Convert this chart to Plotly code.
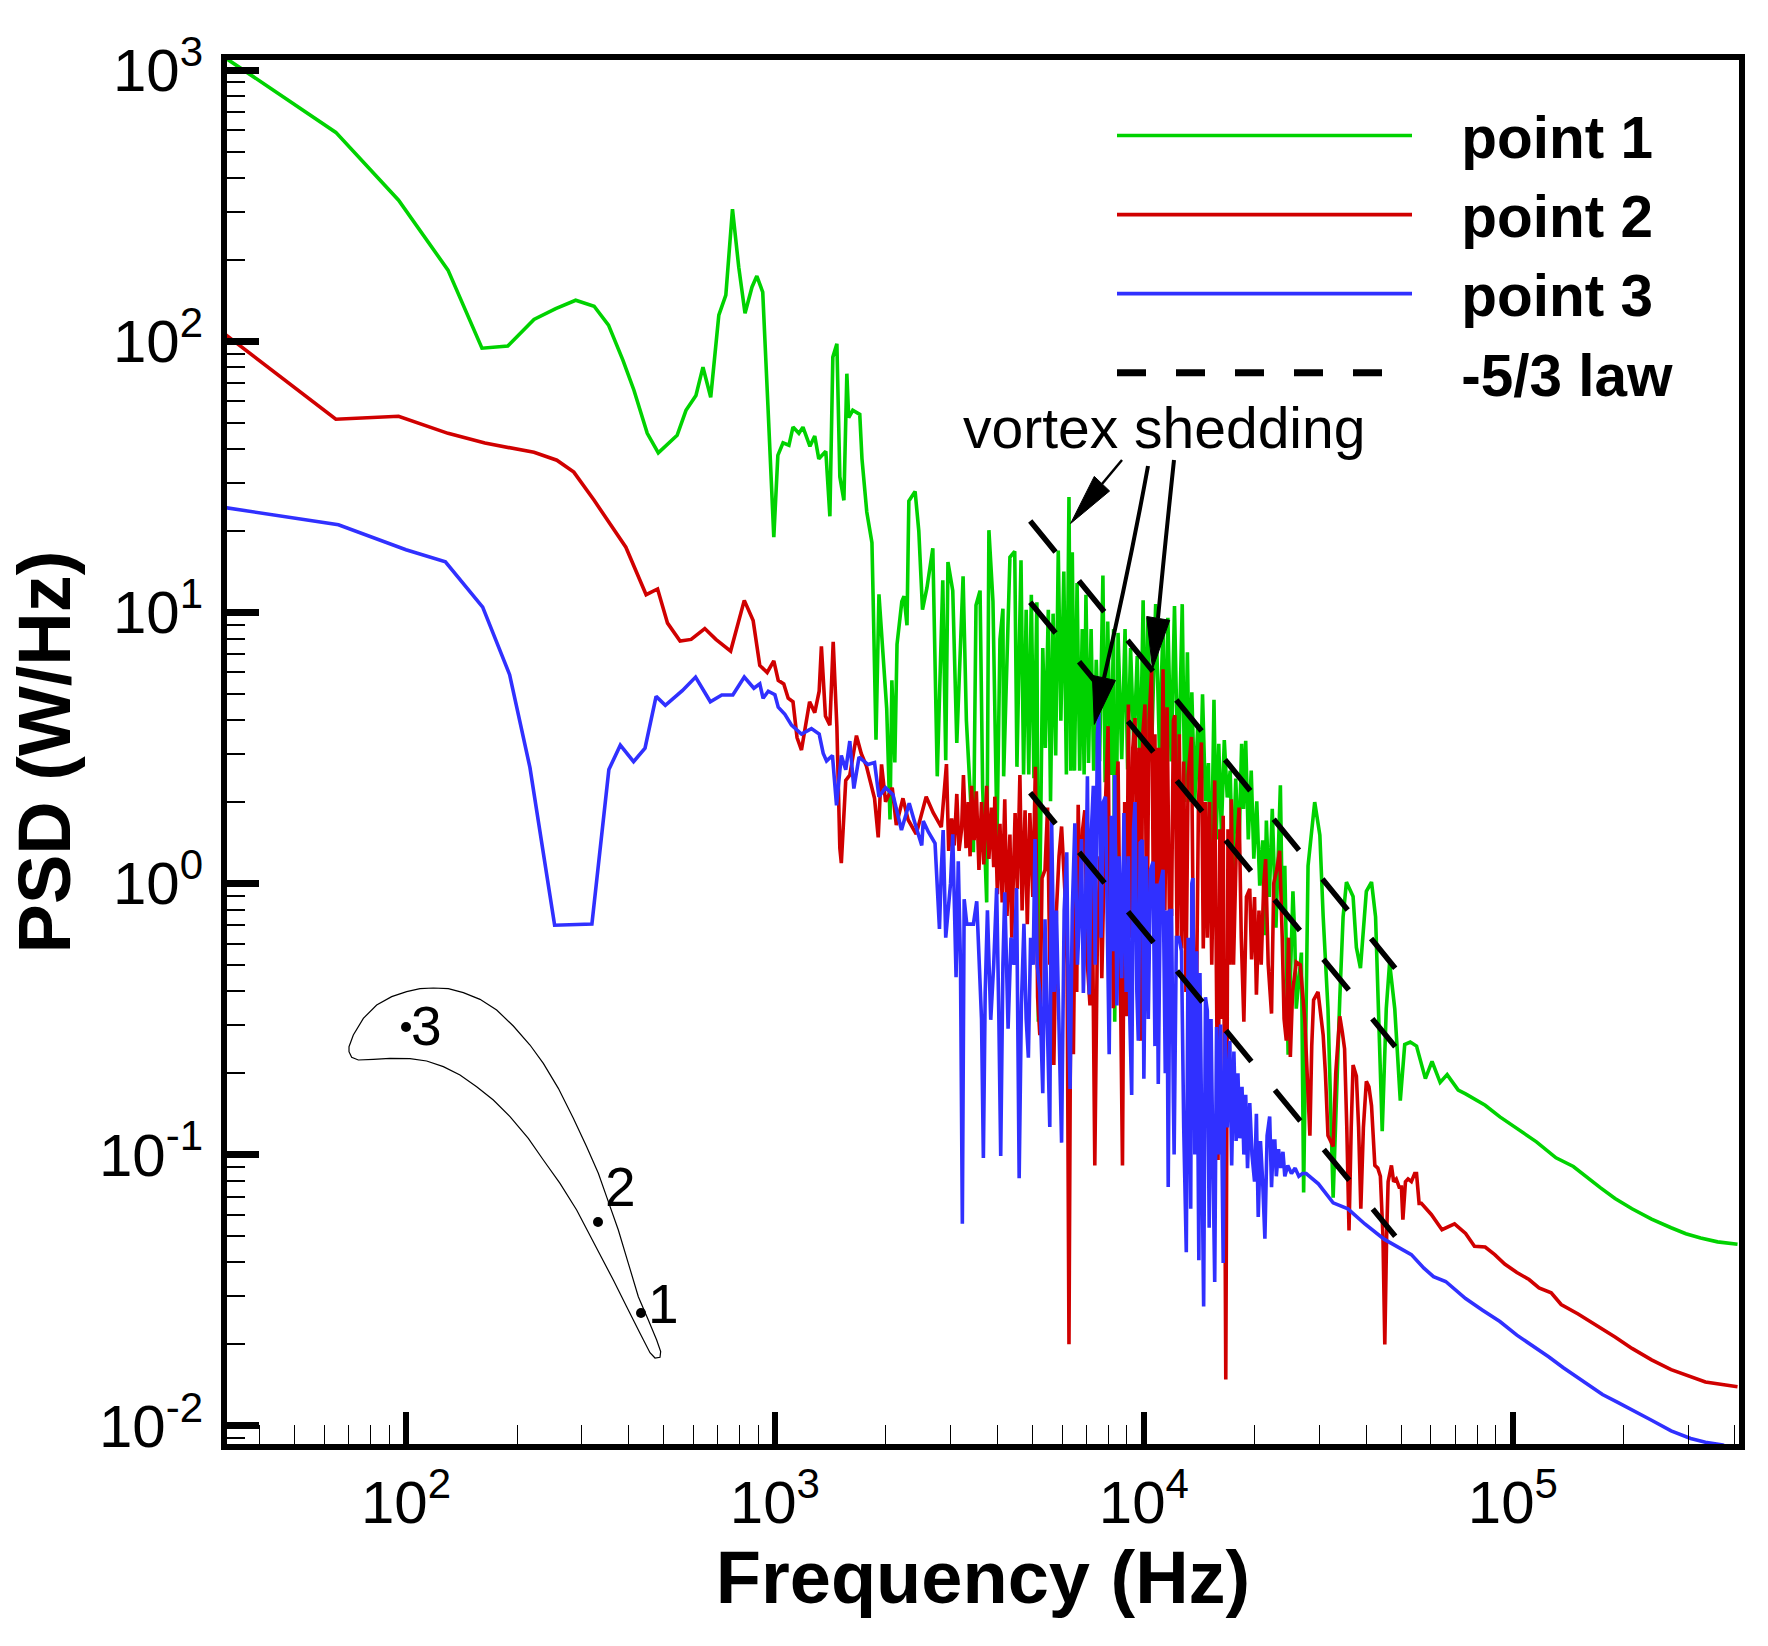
import plotly.graph_objects as go

# (log10 frequency [Hz], log10 PSD [W/Hz])
point1_log = [
(1.505,3.05),(1.81,2.77),(1.98,2.52),(2.114,2.262),(2.206,1.974),(2.276,1.982),(2.347,2.08),(2.406,2.12),(2.46,2.151),(2.51,2.129),
(2.549,2.059),(2.588,1.93),(2.618,1.819),(2.654,1.66),(2.684,1.588),(2.735,1.653),(2.759,1.745),(2.786,1.80),(2.805,1.904),(2.826,1.793),
(2.848,2.096),(2.867,2.17),(2.885,2.487),(2.902,2.273),(2.919,2.103),(2.938,2.2),(2.951,2.24),(2.967,2.181),(2.981,1.764),(2.997,1.277),
(3.008,1.579),(3.022,1.625),(3.038,1.616),(3.049,1.683),(3.065,1.66),(3.076,1.683),(3.095,1.612),(3.108,1.65),(3.119,1.566),(3.138,1.594),
(3.149,1.354),(3.157,1.941),(3.168,1.99),(3.176,1.50),(3.187,1.413),(3.195,1.88),(3.2,1.718),(3.211,1.745),(3.23,1.73),(3.236,1.566),
(3.249,1.37),(3.263,1.257),(3.266,1.066),(3.274,0.53),(3.282,1.066),(3.293,.867),(3.303,.645),(3.312,.236),(3.317,.749),(3.325,.446),
(3.331,.882),(3.344,1.04),(3.35,1.059),(3.358,.952),(3.363,1.41),(3.38,1.446),(3.39,1.30),(3.40,1.01),(3.412,1.09),(3.428,1.236),
(3.44,.395),(3.455,1.118),(3.463,.454),(3.469,1.185),(3.482,1.08),(3.493,.518),(3.51,1.133),(3.519,.6),(3.528,.367),(3.538,.115),(3.545,1.026),
(3.556,1.08),(3.563,.353),(3.574,-.07),(3.58,1.303),(3.591,1.04),(3.602,.17),(3.61,.9),(3.618,1.013),(3.62,.395),(3.637,1.203),(3.65,1.225),(3.656,.43),
(3.667,1.192),(3.674,.402),(3.681,1.009),(3.688,.402),(3.695,1.065),(3.702,.388),(3.71,1.037),(3.714,-.51),(3.726,.868),(3.733,.5),
(3.741,1.009),(3.747,.303),(3.754,.995),(3.761,.472),(3.768,1.228),(3.775,.6),(3.783,1.15),(3.79,.402),(3.797,1.425),(3.802,.416),
(3.806,1.221),(3.812,.416),(3.819,1.108),(3.826,.416),(3.833,.938),(3.838,.402),(3.843,1.065),(3.85,.444),(3.857,.938),(3.864,.416),
(3.871,.825),(3.88,.45),(3.889,1.136),(3.895,.373),(3.902,.966),(3.91,.4),(3.918,.938),(3.921,-.51),(3.93,.924),(3.94,.458),
(3.949,.938),(3.956,.42),(3.964,.868),(3.973,.5),(3.982,.839),(3.99,.4),(3.998,1.044),(4.004,.45),(4.011,.98),(4.02,.45),
(4.032,1.03),(4.042,.5),(4.052,.952),(4.058,.4),(4.065,.98),(4.074,.45),(4.083,1.023),(4.093,.35),(4.104,1.03),(4.111,.3),
(4.118,.853),(4.124,.3),(4.13,.705),(4.138,.3),(4.146,.585),(4.152,.3),(4.159,.698),(4.167,.303),(4.175,.444),(4.182,-.05),
(4.19,.677),(4.196,.162),(4.203,.515),(4.21,.19),(4.218,.529),(4.226,.317),(4.234,.416),(4.241,.02),(4.249,.387),(4.257,.091),
(4.265,.515),(4.27,.275),(4.276,.526),(4.283,.162),(4.291,.416),(4.298,.091),(4.306,.303),(4.314,-.008),(4.322,.159),(4.327,-.191),
(4.332,.232),(4.34,-.05),(4.348,.275),(4.358,-.163),(4.37,.362),(4.375,-.093),(4.382,.065),(4.391,-.632),(4.404,-.029),(4.409,-.199),
(4.413,-.462),(4.427,-.255),(4.433,-1.14),(4.445,.065),(4.463,.30),(4.477,.178),(4.486,-.123),(4.499,-.462),(4.513,-1.159),(4.531,-.425),
(4.54,-.123),(4.549,.005),(4.567,-.048),(4.576,-.236),(4.587,-.312),(4.603,-.029),(4.617,.005),(4.628,-.123),(4.637,-.557),(4.646,-.914),
(4.657,-.462),(4.666,-.293),(4.68,-.462),(4.695,-.801),(4.707,-.594),(4.722,-.585),(4.739,-.60),(4.763,-.72),(4.781,-.656),(4.803,-.734),
(4.822,-.705),(4.852,-.762),(4.872,-.776),(4.925,-.818),(4.965,-.861),(5.004,-.896),(5.064,-.953),(5.117,-1.012),(5.164,-1.044),(5.237,-1.122),
(5.277,-1.162),(5.323,-1.2),(5.376,-1.238),(5.429,-1.27),(5.469,-1.292),(5.509,-1.308),(5.555,-1.322),(5.609,-1.331),
]
point2_log = [
(1.505,2.03),(1.81,1.712),(1.98,1.723),(2.114,1.66),(2.214,1.624),(2.347,1.59),(2.409,1.561),(2.455,1.517),(2.51,1.413),(2.55,1.335),
(2.596,1.24),(2.651,1.065),(2.682,1.086),(2.709,.96),(2.743,.894),(2.773,.9),(2.81,.94),(2.84,.9),(2.88,.857),(2.917,1.044),
(2.941,.97),(2.959,.804),(2.979,.778),(2.997,.821),(3.009,.749),(3.024,.736),(3.036,.683),(3.049,.67),(3.06,.538),(3.072,.492),
(3.094,.67),(3.108,.63),(3.12,.709),(3.126,.874),(3.137,.617),(3.149,.584),(3.158,.891),(3.168,.577),(3.176,.13),(3.18,.075),
(3.192,.38),(3.203,.40),(3.221,.545),(3.234,.479),(3.248,.433),(3.27,.314),(3.28,.17),(3.289,.439),(3.3,.301),(3.318,.353),
(3.329,.215),(3.347,.314),(3.361,.235),(3.383,.182),(3.41,.32),(3.429,.261),(3.451,.208),
(3.465,.44),(3.471,.12),(3.479,.24),(3.486,.14),(3.493,.33),(3.499,.12),(3.506,.20),(3.511,.40),(3.518,.13),(3.524,.30),(3.529,.10),(3.533,.36),
(3.540,.16),(3.546,.34),(3.553,.05),(3.560,.30),(3.566,.07),(3.574,.36),(3.580,.09),(3.587,.28),(3.593,.06),(3.596,.32),(3.603,-.04),(3.610,.22),
(3.616,-.07),(3.623,.31),(3.629,-.12),(3.637,.18),(3.642,-.20),(3.651,.26),(3.657,-.02),(3.664,.40),(3.670,-.10),(3.678,.27),(3.684,-.15),(3.691,.26),
(3.699,-.05),(3.706,.43),(3.712,-.42),(3.718,-.56),(3.724,.02),(3.732,.05),(3.739,.28),(3.745,-.30),(3.750,.05),(3.756,-.67),(3.763,-.1),(3.770,.1),
(3.777,.21),(3.786,-.03),(3.792,-.3),(3.797,-1.70),(3.802,-.3),(3.809,-.63),(3.815,.15),(3.818,-.40),(3.822,.29),(3.828,-.10),(3.834,.2),(3.840,.27),
(3.847,-.30),(3.854,-.45),(3.860,.0),(3.867,-1.04),(3.874,-.2),(3.881,.10),(3.886,-.35),(3.890,-.1),(3.896,.3),(3.903,.58),(3.908,-.3),(3.913,.2),
(3.917,-.46),(3.924,.3),(3.93,.45),(3.936,-.3),(3.942,-1.04),(3.948,.3),(3.953,-.49),(3.958,.66),(3.964,-.2),(3.970,.5),(3.976,.61),(3.982,-.1),
(3.987,.5),(3.991,-.58),(3.997,.55),(4.003,.66),(4.008,-.3),(4.014,.6),(4.021,.79),(4.026,-.1),(4.03,.55),(4.034,-.25),(4.04,.5),(4.046,.0),
(4.052,.79),(4.057,-.1),(4.063,.65),(4.069,-.1),(4.075,-.12),(4.08,.6),(4.084,.62),(4.09,-.2),(4.096,.55),(4.102,-.24),(4.108,.45),(4.114,-.4),
(4.12,.4),(4.129,.54),(4.135,-.35),(4.142,-.52),(4.148,.3),(4.156,.52),(4.161,-.24),(4.167,.3),(4.172,-.2),(4.178,.3),(4.184,-.3),(4.192,.38),
(4.197,-.3),(4.201,-1.02),(4.206,.2),(4.21,-.5),(4.215,.25),(4.222,-1.83),(4.228,.2),(4.233,-.3),(4.237,.31),(4.243,-.3),(4.25,.1),(4.258,.28),
(4.264,-.2),(4.271,-.51),(4.278,-.05),(4.287,-.02),(4.292,-.28),(4.30,-.05),(4.305,-.41),(4.312,-.1),(4.318,-.3),(4.325,.0),(4.33,.09),(4.337,-.3),
(4.346,-.48),(4.352,.0),(4.36,.05),(4.368,.12),(4.375,-.2),(4.38,-.5),(4.386,-.58),(4.392,-.2),(4.397,-.64),(4.403,-.4),(4.413,-.29),(4.424,-.30),
(4.436,-.5),(4.443,-.7),(4.45,-.93),(4.455,-.6),(4.46,-.43),(4.472,-.40),(4.48,-.5),(4.486,-.56),(4.492,-.7),(4.499,-.93),(4.506,-.95),(4.513,-.97),
(4.52,-.7),(4.531,-.49),(4.538,-.55),(4.544,-.61),(4.55,-.9),(4.556,-1.28),(4.562,-.9),(4.567,-.67),(4.576,-.71),(4.582,-.9),(4.588,-1.2),(4.595,-.9),
(4.603,-.73),(4.61,-.75),(4.617,-.82),(4.626,-1.04),(4.634,-1.05),(4.641,-1.08),(4.648,-1.3),(4.653,-1.70),(4.658,-1.3),(4.662,-1.10),(4.671,-1.04),
(4.677,-1.1),(4.684,-1.09),(4.692,-1.12),(4.698,-1.12),(4.702,-1.24),(4.709,-1.1),(4.716,-1.09),(4.725,-1.1),(4.734,-1.07),(4.739,-1.07),(4.746,-1.18),
(4.752,-1.18),(4.779,-1.221),(4.808,-1.277),(4.842,-1.256),(4.872,-1.291),(4.896,-1.338),(4.925,-1.341),(4.951,-1.369),(4.978,-1.404),(5.011,-1.435),
(5.044,-1.461),(5.071,-1.492),(5.104,-1.51),(5.131,-1.553),(5.177,-1.588),(5.237,-1.637),(5.277,-1.673),(5.323,-1.715),(5.376,-1.757),(5.429,-1.793),
(5.482,-1.821),(5.522,-1.839),(5.609,-1.856),
]
point3_log = [
(1.505,1.387),(1.817,1.323),(2.0,1.231),(2.107,1.186),(2.208,1.019),(2.281,.77),(2.336,.428),(2.403,-.154),(2.504,-.15),(2.55,.42),
(2.581,.51),(2.617,.449),(2.648,.499),(2.678,.69),(2.703,.657),(2.749,.711),(2.785,.761),(2.825,.67),(2.856,.695),(2.886,.695),
(2.917,.761),(2.943,.72),(2.959,.736),(2.968,.683),(2.982,.709),(3.0,.696),(3.009,.65),(3.027,.624),(3.045,.584),(3.072,.551),
(3.099,.571),(3.12,.551),(3.131,.479),(3.14,.452),(3.156,.472),(3.167,.288),(3.18,.472),(3.192,.419),(3.203,.525),(3.214,.35),
(3.228,.466),(3.252,.439),(3.27,.446),(3.282,.32),(3.3,.353),(3.32,.327),
(3.343,.197),(3.364,.296),(3.38,.22),(3.398,.14),(3.402,.23),(3.416,.19),(3.434,.148),(3.446,-.168),(3.451,.05),(3.456,.197),(3.463,-.2),(3.47,-.099),
(3.476,.0),(3.482,.181),(3.491,-.346),(3.497,.082),(3.503,-.3),(3.508,-1.255),(3.513,-.058),(3.52,-.15),(3.529,-.149),(3.538,-.15),(3.547,-.066),(3.556,-.338),
(3.56,-.5),(3.565,-1.013),(3.57,-.4),(3.576,-.099),(3.585,-.503),(3.593,-.3),(3.601,-.017),(3.607,-.5),(3.612,-1.005),(3.618,-.3),(3.623,-.033),(3.632,-.536),
(3.64,-.2),(3.648,-.3),(3.655,-.017),(3.662,-1.087),(3.668,-.45),(3.675,-.149),(3.681,-.5),(3.687,-.643),(3.693,-.2),(3.7,-.3),(3.705,.164),(3.711,-.3),
(3.718,-.4),(3.726,-.774),(3.732,-.132),(3.738,-.5),(3.745,-.898),(3.75,.23),(3.757,-.4),(3.763,-.1),(3.77,-.5),(3.777,-.956),(3.784,-.1),(3.791,.115),
(3.796,-.5),(3.8,-.758),(3.806,-.1),(3.813,.222),(3.82,-.3),(3.826,-.1),(3.831,.164),(3.836,-.404),(3.842,-.1),
(3.847,.395),(3.852,-.41),(3.858,.2),(3.863,.36),(3.868,-.3),(3.874,.55),(3.878,.63),(3.884,-.2),(3.89,.3),(3.896,.32),(3.901,-.3),(3.906,-.63),
(3.912,.25),(3.917,-.25),(3.921,.40),(3.927,-.45),(3.933,.1),(3.94,-.35),(3.946,.26),(3.952,-.4),(3.958,.1),(3.962,-.5),(3.967,-.78),(3.972,.2),
(3.976,.30),(3.981,-.4),(3.985,-.58),(3.99,.15),(3.996,.16),(4.0,-.72),(4.006,.1),(4.012,-.5),(4.018,.05),(4.025,.08),(4.03,-.6),(4.035,.0),
(4.039,-.74),(4.045,.0),(4.052,.05),(4.058,-.7),(4.062,-.1),(4.066,-1.12),(4.071,-.1),(4.075,-.10),(4.08,-.8),(4.082,-1.0),(4.088,-.2),(4.095,-.2),
(4.102,-.25),(4.108,-.9),(4.115,-1.36),(4.12,-.2),(4.127,-1.2),(4.13,.0),(4.133,.02),(4.138,-1.0),(4.143,-.25),(4.149,-1.39),(4.152,-.33),(4.157,-1.0),
(4.162,-1.56),(4.167,-.42),(4.172,-.47),(4.177,-1.27),(4.182,-.5),(4.187,-1.0),(4.192,-1.47),(4.197,-.53),(4.203,-1.0),(4.208,-.52),(4.215,-1.40),(4.22,-.55),
(4.226,-.9),(4.233,-.58),(4.238,-1.04),(4.244,-.62),(4.25,-.95),(4.255,-.7),(4.26,-.94),(4.266,-.75),(4.271,-1.0),(4.276,-.78),(4.281,-1.05),(4.287,-.81),
(4.293,-1.0),(4.30,-1.10),(4.305,-.85),(4.31,-1.23),(4.316,-.95),(4.322,-1.1),(4.328,-1.31),(4.334,-.93),(4.341,-.86),(4.346,-1.12),(4.351,-.95),(4.355,-.95),
(4.359,-1.08),(4.365,-.98),(4.371,-1.05),(4.377,-.99),(4.382,-1.08),(4.39,-1.04),(4.40,-1.07),(4.41,-1.05),(4.42,-1.08),(4.43,-1.07),(4.44,-1.07),
(4.473,-1.108),(4.513,-1.178),(4.553,-1.2),(4.599,-1.256),(4.652,-1.313),(4.699,-1.351),(4.725,-1.369),(4.759,-1.419),(4.785,-1.45),(4.818,-1.468),
(4.872,-1.531),(4.918,-1.574),(4.965,-1.616),(5.011,-1.666),(5.058,-1.708),(5.097,-1.746),(5.137,-1.786),(5.19,-1.835),(5.243,-1.885),(5.283,-1.913),
(5.323,-1.941),(5.376,-1.98),(5.429,-2.019),(5.482,-2.047),(5.522,-2.061),(5.569,-2.071),(5.609,-2.1),
]

law_freq = [4920, 48000]
law_a = [21.7, 0.487]
law_b = [10.9, 0.25]
law_c = [2.16, 0.05]

x_tick_vals = [100, 1000, 10000, 100000]
x_tick_text = ["10<sup>2</sup>", "10<sup>3</sup>", "10<sup>4</sup>", "10<sup>5</sup>"]
y_tick_vals = [0.01, 0.1, 1, 10, 100, 1000]
y_tick_text = ["10<sup>-2</sup>", "10<sup>-1</sup>", "10<sup>0</sup>", "10<sup>1</sup>", "10<sup>2</sup>", "10<sup>3</sup>"]
x_minor = [m * 10**e for e in (1, 2, 3, 4, 5) for m in range(2, 10) if 33 <= m * 10**e <= 400000]
y_minor = [m * 10.0**e for e in (-3, -2, -1, 0, 1, 2) for m in range(2, 10) if m * 10.0**e >= 0.009]

GREEN, RED, BLUE = "#00d200", "#d00000", "#3030ff"
W, H = 1768, 1646
L, R, T, B = 227, 1739, 60, 1444
FONT = "Liberation Sans"
GAP = "\u00a0\u00a0\u2009"

def px(x):
    return (x - L) / (R - L)

def py(y):
    return 1 - (y - T) / (B - T)

def path(points, close=False):
    s = "M" + " L".join(f"{px(a):.5f},{py(b):.5f}" for a, b in points)
    return s + (" Z" if close else "")

fig = go.Figure()
for name, table, color in (("point 1", point1_log, GREEN), ("point 2", point2_log, RED), ("point 3", point3_log, BLUE)):
    fig.add_trace(go.Scatter(
        x=[10**a for a, _ in table], y=[10**b for _, b in table], mode="lines",
        name=GAP + name, line=dict(color=color, width=3.6), hoverinfo="skip"))
fig.add_trace(go.Scatter(
    x=[None], y=[None], mode="lines", name=GAP + "-5/3 law",
    line=dict(color="black", width=7, dash="29px,30px")))
for vals in (law_a, law_b, law_c):
    fig.add_trace(go.Scatter(
        x=law_freq, y=vals, mode="lines", showlegend=False,
        line=dict(color="black", width=5.5, dash="40px,37px")))

airfoil_zoom = [(447,290),(460,255),(490,205),(530,165),(575,140),(620,125),(660,116),(700,114),(745,116),(790,128),
    (840,148),(890,180),(940,228),(990,285),(1030,340),(1075,415),(1120,505),(1160,590),(1195,670),(1225,755),(1255,840),
    (1285,940),(1315,1040),(1345,1110),(1370,1170),(1382,1205),(1380,1222),(1365,1224),(1350,1208),(1320,1150),(1280,1070),
    (1240,990),(1190,895),(1130,780),(1080,700),(1030,630),(985,565),(930,500),(880,450),(830,410),(780,375),(730,350),
    (680,333),(630,326),(570,325),(520,328),(475,330),(455,322),(447,305)]
airfoil = [(200 + a / 3, 950 + b / 3) for a, b in airfoil_zoom]
shapes = [dict(type="path", xref="paper", yref="paper", path=path(airfoil, True),
               line=dict(color="black", width=1.2), layer="above")]
for cx, cy in ((406, 1027), (598, 1222), (641, 1313)):
    shapes.append(dict(type="circle", xref="paper", yref="paper", x0=px(cx - 5), x1=px(cx + 5),
                       y0=py(cy + 5), y1=py(cy - 5), fillcolor="black", line=dict(width=0), layer="above"))
# annotation arrows: stems
shapes.append(dict(type="path", xref="paper", yref="paper", path=path([(1122, 460), (1102, 484)]),
                   line=dict(color="black", width=2.5), layer="above"))
shapes.append(dict(type="path", xref="paper", yref="paper",
                   path=f"M{px(1148):.5f},{py(466):.5f} Q{px(1129):.5f},{py(570):.5f} {px(1104):.5f},{py(678):.5f}",
                   line=dict(color="black", width=4), layer="above"))
shapes.append(dict(type="path", xref="paper", yref="paper",
                   path=f"M{px(1174):.5f},{py(460):.5f} Q{px(1165):.5f},{py(545):.5f} {px(1158):.5f},{py(618):.5f}",
                   line=dict(color="black", width=4), layer="above"))
# annotation arrows: heads
for tri in ([(1070.6, 523.5), (1094.3, 476.4), (1109.6, 491)],
            [(1094.3, 724.4), (1092.4, 675.4), (1115.4, 680.4)],
            [(1152.5, 669), (1146.7, 616.5), (1169.7, 620.3)]):
    shapes.append(dict(type="path", xref="paper", yref="paper", path=path(tri, True),
                       fillcolor="black", line=dict(color="black", width=1), layer="above"))

annotations = [
    dict(text="vortex shedding", x=px(1164), y=py(428), xref="paper", yref="paper", showarrow=False,
         xanchor="center", yanchor="middle", font=dict(size=57, family=FONT, color="black")),
    dict(text="3", x=px(426), y=py(1026), xref="paper", yref="paper", showarrow=False,
         xanchor="center", yanchor="middle", font=dict(size=55, family=FONT, color="black")),
    dict(text="2", x=px(620), y=py(1187), xref="paper", yref="paper", showarrow=False,
         xanchor="center", yanchor="middle", font=dict(size=55, family=FONT, color="black")),
    dict(text="1", x=px(663), y=py(1304), xref="paper", yref="paper", showarrow=False,
         xanchor="center", yanchor="middle", font=dict(size=55, family=FONT, color="black")),
]

axis_common = dict(type="log", showgrid=False, zeroline=False, showline=True, linecolor="black", linewidth=6,
                   mirror=True, ticks="inside", tickcolor="black", tickmode="array",
                   tickfont=dict(size=60, family=FONT, color="black"))
fig.update_layout(
    width=W, height=H, margin=dict(l=L, r=W - R, t=T, b=H - B, autoexpand=False),
    paper_bgcolor="white", plot_bgcolor="white", shapes=shapes, annotations=annotations,
    font=dict(family=FONT, color="black"),
    legend=dict(x=px(1112), y=py(91), xanchor="left", yanchor="top", itemwidth=295, bgcolor="rgba(0,0,0,0)",
                font=dict(size=58.5, family=FONT, weight=700, color="black"), tracegroupgap=0),
    xaxis=dict(axis_common, range=[1.515, 5.613], tickvals=x_tick_vals, ticktext=x_tick_text, ticklen=32, tickwidth=6,
               minor=dict(tickmode="array", tickvals=x_minor, ticklen=19, tickwidth=1.2, ticks="inside", tickcolor="black"),
               ticklabelstandoff=1,
               title=dict(text="Frequency (Hz)", standoff=4, font=dict(size=74, family=FONT, weight=700, color="black"))),
    yaxis=dict(axis_common, range=[-2.0675, 3.037], tickvals=y_tick_vals, ticktext=y_tick_text, ticklen=32, tickwidth=7,
               minor=dict(tickmode="array", tickvals=y_minor, ticklen=18, tickwidth=2, ticks="inside", tickcolor="black"),
               ticklabelstandoff=6,
               title=dict(text="PSD (W/Hz)", standoff=6, font=dict(size=74, family=FONT, weight=700, color="black"))),
)
fig.write_html("out.html", post_script="document.body.style.margin='0';", config=dict(displayModeBar=False))
